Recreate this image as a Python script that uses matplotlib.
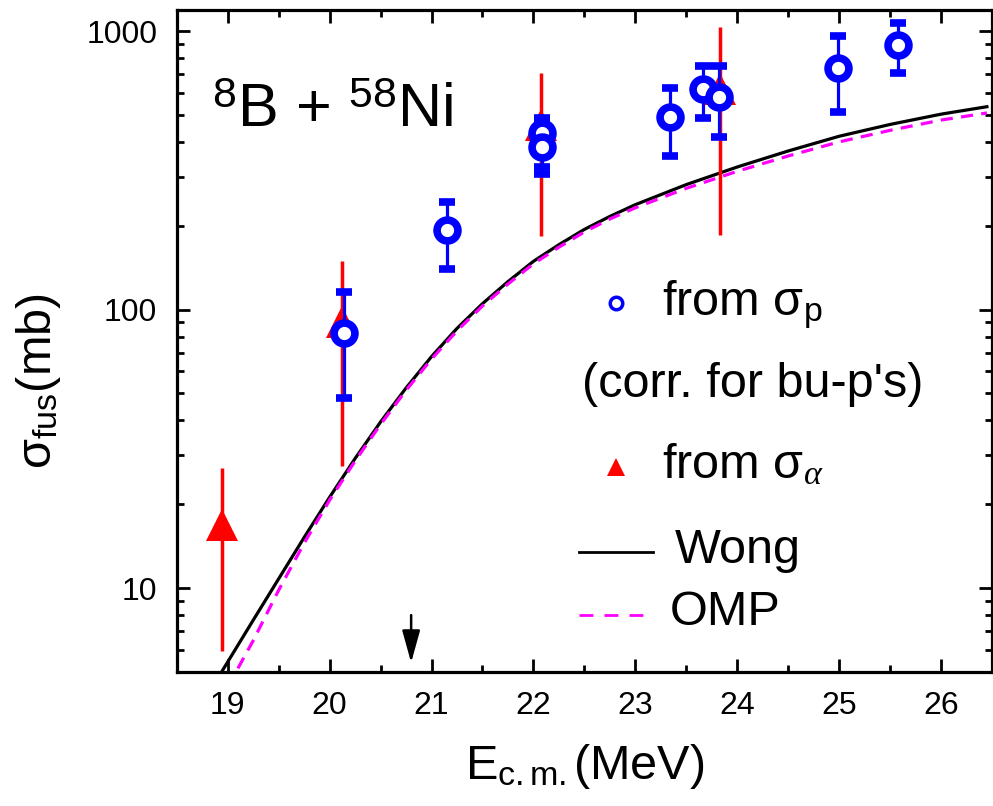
import matplotlib
matplotlib.use('Agg')
import matplotlib.pyplot as plt
from matplotlib.lines import Line2D

plt.rcParams['font.family'] = ['Liberation Sans', 'DejaVu Sans']
plt.rcParams['mathtext.fontset'] = 'custom'
plt.rcParams['mathtext.rm'] = 'Liberation Sans'
plt.rcParams['mathtext.it'] = 'Liberation Serif:italic'
plt.rcParams['mathtext.sf'] = 'Liberation Sans'

# fusion cross section from protons (blue open circles)
e_p = [20.146, 21.155, 22.08, 22.08, 23.336, 23.667, 23.82, 24.99, 25.575]
sig_p = [82.3, 193, 430, 382, 490, 617, 581, 734, 891]
sig_p_hi = [115.9, 243.8, 486, 470, 625, 751, 750, 959, 1071]
sig_p_lo = [48.0, 139.6, 326, 307, 357, 489, 415, 513, 708]

# fusion cross section from alphas (red triangles)
e_a = [18.94, 20.12, 22.07, 23.83]
sig_a = [16.8, 90.4, 460, 620]
sig_a_hi = [27.0, 149.6, 708, 1030]
sig_a_lo = [5.96, 27.5, 184, 184.6]

# Wong model
e_wong = [18.94, 19.25, 19.5, 19.75, 20.0, 20.25, 20.5, 20.75, 21.0, 21.25, 21.5, 21.75,
          22.0, 22.25, 22.5, 22.75, 23.0, 23.5, 24.0, 24.5, 25.0, 25.5, 26.0, 26.45]
sig_wong = [5.0, 7.67, 10.8, 15.2, 21.2, 29.2, 39.5, 52.3, 67.8, 85.6, 105, 126,
            149, 171, 194, 216, 238, 281, 325, 371, 419, 462, 503, 535]

# optical model (OMP)
e_omp = [19.1, 19.25, 19.5, 19.75, 20.0, 20.25, 20.5, 20.75, 21.0, 21.25, 21.5, 21.75,
         22.0, 22.25, 22.5, 22.75, 23.0, 23.5, 24.0, 24.5, 25.0, 25.5, 26.0, 26.45]
sig_omp = [5.15, 6.48, 9.83, 14.5, 20.7, 28.6, 38.7, 51.3, 66.4, 83.9, 103, 123.5,
           146, 167.5, 190, 211.5, 232, 272.5, 313.6, 356, 400, 440, 479, 508]

# barrier arrow
e_barrier = 20.8
arrow_top, arrow_bottom = 8.0, 5.4

fig = plt.figure(figsize=(9.93, 8.06), dpi=100)
ax = fig.add_axes([0.178, 0.1663, 0.821, 0.8213])

ax.plot(e_wong, sig_wong, color='black', lw=2.3, zorder=2)
ax.plot(e_omp, sig_omp, color='#ff00ff', lw=2.3, dashes=(3.8, 2.6), zorder=2)

yerr_a = [[s - l for s, l in zip(sig_a, sig_a_lo)], [h - s for s, h in zip(sig_a, sig_a_hi)]]
ax.errorbar(e_a, sig_a, yerr=yerr_a, fmt='^', color='#ff0000', ms=23, mew=0,
            elinewidth=2.5, capsize=6, capthick=2.5, zorder=3)

yerr_p = [[s - l for s, l in zip(sig_p, sig_p_lo)], [h - s for s, h in zip(sig_p, sig_p_hi)]]
ax.errorbar(e_p, sig_p, yerr=yerr_p, fmt='o', color='#0000ff', mfc='white', mec='#0000ff',
            ms=15, mew=5.5, elinewidth=2.3, capsize=6, capthick=2.3, zorder=4)

ax.annotate('', xy=(e_barrier, arrow_bottom), xytext=(e_barrier, arrow_top),
            arrowprops=dict(arrowstyle='-|>,head_length=0.9,head_width=0.25', color='black',
                            lw=1.8, mutation_scale=22, shrinkA=0, shrinkB=0))

ax.set_yscale('log')
ax.set_xlim(18.5, 26.44)
ax.set_ylim(5.0, 1190)
ax.set_xticks(range(19, 27))
ax.set_xticks([x + 0.5 for x in range(18, 27)], minor=True)
ax.set_yticks([10, 100, 1000])
ax.set_yticklabels(['10', '100', '1000'])
ax.tick_params(which='both', direction='in', top=True, right=True, width=2)
ax.tick_params(which='major', length=9.5, labelsize=23, pad=14)
ax.tick_params(which='minor', length=5)
ax.tick_params(axis='y', which='minor', labelleft=False)
for sp in ax.spines.values():
    sp.set_linewidth(2.3)

ax.set_xlabel('E$_{\\mathrm{c.m.}}$(MeV)', fontsize=35, labelpad=15)
ax.set_ylabel('σ$_{\\mathrm{fus}}$(mb)', fontsize=35)
ax.yaxis.set_label_coords(-0.14, 0.44)

ax.text(0.043, 0.823, '$^{8}$B + $^{58}$Ni', transform=ax.transAxes, fontsize=44,
        va='baseline', ha='left')

# legend drawn by hand
tr = ax.transAxes
ax.add_line(Line2D([0.539], [0.557], transform=tr, marker='o', ms=9, mew=2.5,
                   mfc='white', mec='#0000ff', ls='none'))
ax.text(0.595, 0.539, 'from σ$_{\\mathrm{p}}$', transform=tr, fontsize=35, va='baseline')
ax.text(0.497, 0.415, "(corr. for bu-p's)", transform=tr, fontsize=35, va='baseline')
ax.add_line(Line2D([0.539], [0.310], transform=tr, marker='^', ms=13, mew=0,
                   color='#ff0000', ls='none'))
ax.text(0.595, 0.293, 'from σ$_{\\alpha}$', transform=tr, fontsize=35, va='baseline')
ax.add_line(Line2D([0.493, 0.584], [0.181, 0.181], transform=tr, color='black', lw=2))
ax.text(0.611, 0.165, 'Wong', transform=tr, fontsize=35, va='baseline')
ax.add_line(Line2D([0.493, 0.584], [0.086, 0.086], transform=tr, color='#ff00ff', lw=2,
                   dashes=(5, 4)))
ax.text(0.605, 0.071, 'OMP', transform=tr, fontsize=35, va='baseline')

fig.savefig('out.png', dpi=100)
